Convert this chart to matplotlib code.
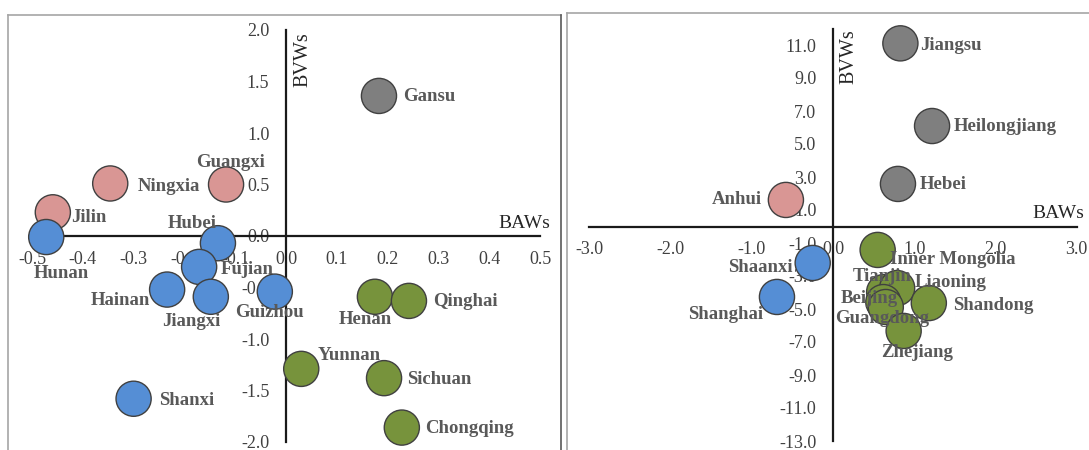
import matplotlib
matplotlib.use("Agg")
import matplotlib.pyplot as plt
from matplotlib.lines import Line2D

plt.rcParams["font.family"] = ["Liberation Serif", "DejaVu Serif"]
plt.rcParams["axes.unicode_minus"] = False

# ---- data: provinces plotted by BAWs (x) and BVWs (y) ----
left_names = ["Gansu", "Guangxi", "Ningxia", "Jilin", "Hunan", "Hubei", "Fujian",
              "Hainan", "Jiangxi", "Guizhou", "Shanxi", "Henan", "Qinghai",
              "Yunnan", "Sichuan", "Chongqing"]
left_baws = [0.183, -0.118, -0.346, -0.459, -0.472, -0.134, -0.171,
             -0.234, -0.148, -0.022, -0.300, 0.175, 0.242,
             0.030, 0.193, 0.228]
left_bvws = [1.36, 0.50, 0.51, 0.23, -0.01, -0.07, -0.30,
             -0.52, -0.59, -0.54, -1.58, -0.59, -0.63,
             -1.29, -1.38, -1.86]
left_group = ["grey", "pink", "pink", "pink", "blue", "blue", "blue",
              "blue", "blue", "blue", "blue", "green", "green",
              "green", "green", "green"]

right_names = ["Jiangsu", "Heilongjiang", "Hebei", "Anhui", "Shaanxi", "Shanghai",
               "Inner Mongolia", "Tianjin", "Liaoning", "Beijing", "Guangdong",
               "Shandong", "Zhejiang"]
right_baws = [0.83, 1.22, 0.80, -0.58, -0.25, -0.69,
              0.55, 0.63, 0.79, 0.62, 0.65,
              1.18, 0.87]
right_bvws = [11.1, 6.09, 2.58, 1.61, -2.21, -4.27,
              -1.42, -3.97, -3.73, -4.58, -4.88,
              -4.64, -6.33]
right_group = ["grey", "grey", "grey", "pink", "blue", "blue",
               "green", "green", "green", "green", "green",
               "green", "green"]

left_xticks = [-0.5, -0.4, -0.3, -0.2, -0.1, 0.0, 0.1, 0.2, 0.3, 0.4, 0.5]
left_yticks = [-2.0, -1.5, -1.0, -0.5, 0.0, 0.5, 1.0, 1.5, 2.0]
right_xticks = [-3.0, -2.0, -1.0, 0.0, 1.0, 2.0, 3.0]
right_yticks = [-13.0, -11.0, -9.0, -7.0, -5.0, -3.0, -1.0, 1.0, 3.0, 5.0, 7.0, 9.0, 11.0]

# ---- styling ----
group_colors = {"grey": "#7F7F7F", "pink": "#D99694", "blue": "#558ED5", "green": "#77933C"}
label_color = "#595959"
tick_color = "#404040"

# label placement: (dx px, dy px, horizontal alignment)
left_label_pos = {
    "Gansu": (24, -1, "left"), "Guangxi": (4, 22, "center"), "Ningxia": (27, -3, "left"),
    "Jilin": (18, -5, "left"), "Hunan": (15, -36, "center"), "Hubei": (-26, 20, "center"),
    "Fujian": (22, -3, "left"), "Hainan": (-17, -11, "right"), "Jiangxi": (-20, -25, "center"),
    "Guizhou": (-5, -21, "center"), "Shanxi": (25, -2, "left"), "Henan": (-10, -23, "center"),
    "Qinghai": (24, -1, "left"), "Yunnan": (16, 13, "left"), "Sichuan": (23, -1, "left"),
    "Chongqing": (23, -1, "left"),
}
right_label_pos = {
    "Jiangsu": (20, -2, "left"), "Heilongjiang": (22, 0, "left"), "Hebei": (22, -1, "left"),
    "Anhui": (-24, 0, "right"), "Shaanxi": (-20, -5, "right"), "Shanghai": (-51, -18, "center"),
    "Inner Mongolia": (12, -10, "left"), "Tianjin": (-2, 16, "center"),
    "Liaoning": (18, 6, "left"), "Beijing": (-14, 4, "center"),
    "Guangdong": (-4, -11, "center"), "Shandong": (24, -2, "left"),
    "Zhejiang": (13, -22, "center"),
}

W, H = 1089, 450
fig = plt.figure(figsize=(W / 100, H / 100), dpi=100)


def frac_box(x0, y0, x1, y1):
    return [x0 / W, 1 - y1 / H, (x1 - x0) / W, (y1 - y0) / H]


def draw_panel(ax, xs, ys, names, groups, pos, xlim, ylim, xticks, yticks,
               xtitle_off, ytitle_off):
    ax.set_xlim(*xlim)
    ax.set_ylim(*ylim)
    ax.patch.set_visible(False)
    for s in ("top", "right"):
        ax.spines[s].set_visible(False)
    for s in ("left", "bottom"):
        ax.spines[s].set_position(("data", 0))
        ax.spines[s].set_linewidth(1.6)
        ax.spines[s].set_color("#1a1a1a")
    ax.set_xticks(xticks)
    ax.set_yticks(yticks)
    ax.set_xticklabels([f"{v:.1f}" for v in xticks])
    ax.set_yticklabels([f"{v:.1f}" for v in yticks])
    ax.tick_params(axis="both", length=0, labelsize=13, labelcolor=tick_color)
    ax.tick_params(axis="x", pad=10.5)
    ax.tick_params(axis="y", pad=12)

    ax.scatter(xs, ys, s=640, c=[group_colors[g] for g in groups],
               edgecolors="#404040", linewidths=1.0, zorder=3, clip_on=False)
    for x, y, n in zip(xs, ys, names):
        dx, dy, ha = pos[n]
        ax.annotate(n, (x, y), xytext=(dx, dy), textcoords="offset pixels",
                    ha=ha, va="center", fontsize=13.5, fontweight="bold",
                    color=label_color, zorder=4, annotation_clip=False)

    ax.annotate("BAWs", (xlim[1], 0), xytext=xtitle_off, textcoords="offset pixels",
                ha="right", va="center", fontsize=14, color="#262626",
                annotation_clip=False)
    ax.annotate("BVWs", (0, ylim[1]), xytext=ytitle_off, textcoords="offset pixels",
                ha="center", va="center", rotation=90, fontsize=14.5, color="#262626",
                annotation_clip=False)


ax1 = fig.add_axes(frac_box(32, 30, 540, 442))
draw_panel(ax1, left_baws, left_bvws, left_names, left_group, left_label_pos,
           (-0.5, 0.5), (-2.0, 2.0), left_xticks, left_yticks, (10, 13), (17, -30))

ax2 = fig.add_axes(frac_box(589.4, 28.5, 1076.6, 441))
draw_panel(ax2, right_baws, right_bvws, right_names, right_group, right_label_pos,
           (-3.0, 3.0), (-13.0, 12.0), right_xticks, right_yticks, (8, 13), (16, -28))

# panel frames
def fig_line(xs, ys, color, lw):
    fig.add_artist(Line2D([x / W for x in xs], [1 - y / H for y in ys],
                          transform=fig.transFigure, color=color, linewidth=lw))

fig_line([8, 8], [15, 452], "#a6a6a6", 1.2)
fig_line([8, 561], [15, 15], "#a6a6a6", 1.2)
fig_line([561, 561], [15, 452], "#595959", 1.2)
fig_line([567, 567], [13, 452], "#a6a6a6", 1.2)
fig_line([567, 1092], [13, 13], "#a6a6a6", 1.2)

fig.savefig("out.png", dpi=100)
